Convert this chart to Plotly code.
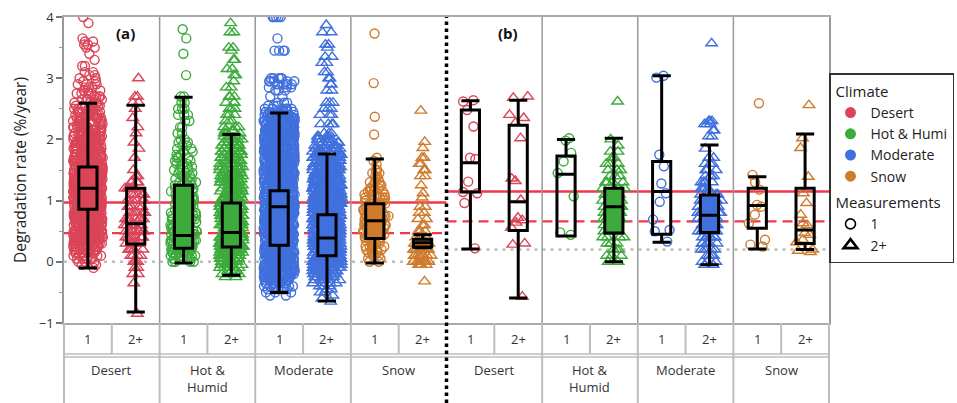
import plotly.graph_objects as go
import numpy as np

# ---------------- data ----------------
climates = ["Desert", "Hot & Humid", "Moderate", "Snow"]
climate_labels = ["Desert", "Hot &<br>Humid", "Moderate", "Snow"]
legend_names = ["Desert", "Hot & Humi", "Moderate", "Snow"]
measurements = ["1", "2+"]
panel_tags = ["(a)", "(b)"]
y_ticks = [-1, 0, 1, 2, 3, 4]

# box statistics, order: Desert 1, Desert 2+, H&H 1, H&H 2+, Mod 1, Mod 2+, Snow 1, Snow 2+
a_q1 = [0.86, 0.29, 0.22, 0.24, 0.27, 0.10, 0.38, 0.24]
a_median = [1.20, 0.62, 0.43, 0.48, 0.90, 0.39, 0.67, 0.31]
a_q3 = [1.55, 1.20, 1.25, 0.96, 1.16, 0.77, 0.95, 0.37]
a_lower = [-0.10, -0.82, -0.02, -0.22, -0.50, -0.64, -0.02, 0.23]
a_upper = [2.59, 2.56, 2.69, 2.08, 2.43, 1.76, 1.68, 0.44]

b_q1 = [1.14, 0.51, 0.42, 0.47, 0.45, 0.48, 0.55, 0.30]
b_median = [1.62, 0.98, 1.43, 0.90, 1.15, 0.76, 0.92, 0.52]
b_q3 = [2.48, 2.23, 1.73, 1.20, 1.64, 1.09, 1.20, 1.20]
b_lower = [0.21, -0.59, 0.42, 0.00, 0.32, -0.05, 0.21, 0.20]
b_upper = [2.63, 2.64, 2.00, 2.02, 3.04, 1.91, 1.39, 2.09]

# reference lines per panel
ref_solid = [0.97, 1.15]
ref_dashed = [0.47, 0.66]
ref_dotted = [0.0, 0.20]

# ---- individual degradation rates (value levels and how many points sit there) ----
a_desert_1_levels = [-0.10, -0.05, 0.00, 0.05, 0.10, 0.15, 0.20, 0.25, 0.30, 0.35, 0.40, 0.45, 0.50,
                     0.55, 0.60, 0.65, 0.70, 0.75, 0.80, 0.85, 0.90, 0.95, 1.00, 1.05, 1.10, 1.15,
                     1.20, 1.25, 1.30, 1.35, 1.40, 1.45, 1.50, 1.55, 1.60, 1.65, 1.70, 1.75, 1.80,
                     1.85, 1.90, 1.95, 2.00, 2.05, 2.10, 2.15, 2.20, 2.25, 2.30, 2.35, 2.40, 2.45,
                     2.50, 2.55, 2.60, 2.65, 2.70, 2.75, 2.80, 2.85, 2.90, 2.95, 3.00, 3.05, 3.10,
                     3.20, 3.30, 3.40, 3.50, 3.55, 3.60, 3.65, 3.90, 4.00]
a_desert_1_counts = [1, 2, 3, 5, 6, 8, 9, 11, 12, 13, 14, 15, 16,
                     17, 18, 18, 19, 19, 20, 20, 20, 20, 20, 20, 20, 20,
                     20, 20, 20, 20, 20, 19, 19, 18, 18, 17, 17, 16, 16,
                     15, 15, 14, 13, 12, 12, 11, 10, 9, 9, 8, 7, 7,
                     6, 6, 5, 5, 4, 4, 3, 3, 3, 2, 2, 2, 2,
                     2, 1, 1, 2, 2, 2, 1, 1, 1]

a_desert_2_levels = [-0.85, -0.35, -0.2, -0.1, 0.0, 0.1, 0.2, 0.3, 0.4, 0.5, 0.6, 0.7, 0.8, 0.9, 1.0,
                     1.1, 1.2, 1.3, 1.4, 1.5, 1.7, 1.85, 1.95, 2.1, 2.2, 2.35, 2.5, 2.6, 2.7, 3.0]
a_desert_2_counts = [1, 1, 2, 2, 3, 4, 5, 7, 8, 8, 8, 7, 6, 6, 6,
                     5, 6, 4, 2, 1, 1, 1, 1, 1, 1, 1, 1, 2, 2, 1]

a_hot_1_levels = [0.00, 0.05, 0.10, 0.15, 0.20, 0.25, 0.30, 0.35, 0.40, 0.45, 0.50, 0.55, 0.60,
                  0.65, 0.70, 0.75, 0.80, 0.85, 0.90, 0.95, 1.00, 1.05, 1.10, 1.15, 1.20, 1.25,
                  1.30, 1.35, 1.40, 1.45, 1.50, 1.55, 1.60, 1.65, 1.70, 1.75, 1.80, 1.85, 1.90,
                  1.95, 2.00, 2.10, 2.20, 2.30, 2.40, 2.50, 2.60, 2.70, 3.05, 3.40, 3.65, 3.80]
a_hot_1_counts = [4, 6, 7, 8, 8, 8, 8, 8, 7, 7, 7, 6, 6,
                  6, 6, 5, 5, 5, 5, 5, 5, 4, 4, 4, 4, 4,
                  4, 3, 3, 3, 3, 3, 3, 3, 3, 2, 2, 2, 2,
                  2, 2, 2, 2, 2, 3, 3, 2, 2, 1, 1, 1, 1]

a_hot_2_levels = [-0.25, -0.20, -0.15, -0.10, -0.05, 0.00, 0.05, 0.10, 0.15, 0.20, 0.25, 0.30, 0.35,
                  0.40, 0.45, 0.50, 0.55, 0.60, 0.65, 0.70, 0.75, 0.80, 0.85, 0.90, 0.95, 1.00,
                  1.05, 1.10, 1.15, 1.20, 1.25, 1.30, 1.35, 1.40, 1.45, 1.50, 1.55, 1.60, 1.65,
                  1.70, 1.75, 1.80, 1.85, 1.90, 1.95, 2.00, 2.05, 2.10, 2.15, 2.20, 2.30, 2.40,
                  2.50, 2.60, 2.70, 2.85, 2.95, 3.05, 3.15, 3.30, 3.45, 3.50, 3.75, 3.90]
a_hot_2_counts = [2, 3, 4, 5, 6, 7, 8, 9, 10, 10, 11, 11, 11,
                  11, 11, 11, 11, 11, 11, 11, 11, 11, 11, 10, 10, 10,
                  9, 9, 9, 8, 8, 8, 7, 7, 7, 6, 6, 6, 5,
                  5, 5, 5, 4, 4, 4, 4, 3, 3, 3, 3, 3, 3,
                  3, 3, 3, 2, 1, 2, 2, 2, 1, 2, 2, 1]

a_mod_1_levels = [-0.55, -0.50, -0.45, -0.40, -0.35, -0.30, -0.25, -0.20, -0.15, -0.10, -0.05,
                  0.00, 0.05, 0.10, 0.15, 0.20, 0.25, 0.30, 0.35, 0.40, 0.45, 0.50, 0.55, 0.60,
                  0.65, 0.70, 0.75, 0.80, 0.85, 0.90, 0.95, 1.00, 1.05, 1.10, 1.15, 1.20, 1.25,
                  1.30, 1.35, 1.40, 1.45, 1.50, 1.55, 1.60, 1.65, 1.70, 1.75, 1.80, 1.85, 1.90,
                  1.95, 2.00, 2.05, 2.10, 2.15, 2.20, 2.25, 2.30, 2.35, 2.40, 2.45, 2.50, 2.55,
                  2.60, 2.70, 2.80, 2.85, 2.90, 2.95, 3.00, 3.45, 3.65, 4.00]
a_mod_1_counts = [2, 3, 5, 7, 9, 11, 13, 15, 17, 18, 19,
                  20, 20, 20, 20, 20, 20, 20, 20, 20, 20, 20, 20, 20,
                  20, 20, 20, 20, 20, 20, 20, 20, 20, 20, 20, 20, 20,
                  20, 20, 20, 20, 20, 20, 20, 20, 20, 20, 20, 20, 20,
                  20, 20, 20, 20, 19, 18, 17, 16, 15, 13, 10, 7, 3,
                  3, 2, 3, 3, 4, 5, 5, 4, 1, 5]

a_mod_2_levels = [-0.65, -0.60, -0.55, -0.50, -0.45, -0.40, -0.35, -0.30, -0.25, -0.20, -0.15,
                  -0.10, -0.05, 0.00, 0.05, 0.10, 0.15, 0.20, 0.25, 0.30, 0.35, 0.40, 0.45, 0.50,
                  0.55, 0.60, 0.65, 0.70, 0.75, 0.80, 0.85, 0.90, 0.95, 1.00, 1.05, 1.10, 1.15,
                  1.20, 1.25, 1.30, 1.35, 1.40, 1.45, 1.50, 1.55, 1.60, 1.65, 1.70, 1.75, 1.80,
                  1.85, 1.90, 1.95, 2.00, 2.05, 2.10, 2.25, 2.40, 2.50, 2.60, 2.80, 2.90, 3.00,
                  3.10, 3.25, 3.35, 3.50, 3.55, 3.75, 3.87]
a_mod_2_counts = [1, 1, 1, 2, 2, 3, 4, 5, 7, 9, 11,
                  13, 15, 16, 17, 18, 19, 20, 20, 20, 20, 20, 20, 20,
                  20, 20, 20, 20, 20, 20, 20, 20, 20, 20, 20, 20, 20,
                  20, 19, 18, 17, 16, 15, 14, 13, 12, 11, 10, 9, 8,
                  7, 6, 5, 5, 4, 3, 4, 3, 3, 3, 2, 2, 2,
                  2, 2, 2, 1, 2, 2, 1]

a_snow_1_levels = [0.00, 0.05, 0.10, 0.15, 0.20, 0.25, 0.30, 0.35, 0.40, 0.45, 0.50, 0.55, 0.60,
                   0.65, 0.70, 0.75, 0.80, 0.85, 0.90, 0.95, 1.00, 1.05, 1.10, 1.15, 1.20, 1.25,
                   1.30, 1.35, 1.40, 1.45, 1.50, 1.60, 1.65, 1.70, 2.08, 2.37, 2.92, 3.73]
a_snow_1_counts = [2, 2, 3, 3, 4, 4, 5, 5, 5, 6, 6, 6, 6,
                   6, 6, 6, 6, 6, 5, 5, 5, 5, 4, 4, 4, 3,
                   3, 2, 2, 2, 2, 1, 1, 1, 1, 1, 1, 1]

a_snow_2_levels = [-0.32, -0.05, 0.0, 0.1, 0.2, 0.3, 0.4, 0.5, 0.6, 0.7, 0.8, 0.9, 1.05, 1.12, 1.25,
                   1.4, 1.5, 1.6, 1.7, 1.86, 1.96, 2.47]
a_snow_2_counts = [1, 4, 9, 10, 10, 8, 5, 3, 2, 2, 2, 2, 1, 1, 1,
                   2, 2, 2, 2, 1, 1, 1]

b_desert_1_values = [0.22, 0.96, 1.12, 1.14, 1.31, 1.68, 1.70, 2.21, 2.48, 2.62, 2.64]
b_desert_2_values = [-0.57, 0.28, 0.30, 0.56, 0.64, 0.68, 0.72, 1.01, 1.32, 1.36, 2.02, 2.27,
                     2.35, 2.40, 2.68, 2.70]
b_hot_1_values = [0.44, 0.48, 1.07, 1.45, 1.64, 1.78, 1.98, 2.02]
b_hot_2_levels = [0.0, 0.1, 0.2, 0.3, 0.4, 0.5, 0.6, 0.7, 0.8, 0.9, 1.0, 1.1, 1.2, 1.3, 1.4, 1.5,
                  1.6, 1.7, 1.8, 1.9, 2.0, 2.62]
b_hot_2_counts = [2, 3, 3, 4, 4, 5, 5, 5, 5, 5, 5, 5, 4, 4, 3, 3,
                  3, 2, 2, 1, 1, 1]
b_mod_1_values = [0.33, 0.50, 0.52, 0.69, 0.98, 1.12, 1.28, 1.56, 1.75, 3.01, 3.04]
b_mod_2_levels = [-0.05, 0.0, 0.1, 0.2, 0.3, 0.4, 0.5, 0.6, 0.7, 0.8, 0.9, 1.0, 1.1, 1.2, 1.3,
                  1.4, 1.5, 1.6, 1.7, 1.85, 2.05, 2.15, 2.25, 2.3, 3.57]
b_mod_2_counts = [2, 3, 4, 5, 6, 7, 8, 8, 8, 8, 7, 7, 6, 5, 4,
                  4, 3, 3, 2, 1, 2, 2, 3, 3, 1]
b_snow_1_values = [0.25, 0.28, 0.36, 0.63, 0.77, 0.90, 0.93, 1.18, 1.30, 1.42, 2.59]
b_snow_2_values = [0.16, 0.18, 0.20, 0.32, 0.36, 0.44, 0.47, 0.60, 0.63, 0.77, 0.96, 1.12,
                   1.39, 1.86, 2.02, 2.56]

a_points = [np.repeat(a_desert_1_levels, a_desert_1_counts), np.repeat(a_desert_2_levels, a_desert_2_counts),
            np.repeat(a_hot_1_levels, a_hot_1_counts), np.repeat(a_hot_2_levels, a_hot_2_counts),
            np.repeat(a_mod_1_levels, a_mod_1_counts), np.repeat(a_mod_2_levels, a_mod_2_counts),
            np.repeat(a_snow_1_levels, a_snow_1_counts), np.repeat(a_snow_2_levels, a_snow_2_counts)]
b_points = [np.array(b_desert_1_values), np.array(b_desert_2_values),
            np.array(b_hot_1_values), np.repeat(b_hot_2_levels, b_hot_2_counts),
            np.array(b_mod_1_values), np.repeat(b_mod_2_levels, b_mod_2_counts),
            np.array(b_snow_1_values), np.array(b_snow_2_values)]

panels = [
    dict(points=a_points, q1=a_q1, med=a_median, q3=a_q3, lo=a_lower, hi=a_upper),
    dict(points=b_points, q1=b_q1, med=b_median, q3=b_q3, lo=b_lower, hi=b_upper),
]

# ---------------- style ----------------
colors = ["#DA4558", "#3CAB3C", "#4070DD", "#CF7B2E"]
symbols = ["circle-open", "triangle-up-open"]
sizes = [9, 10]
spread = [[0.62, 0.48, 0.55, 0.5, 0.65, 0.6, 0.58, 0.5],
          [0.45, 0.45, 0.45, 0.48, 0.45, 0.5, 0.45, 0.45]]
filled = [[True, False, True, True, True, True, True, True],
          [False, False, False, True, False, True, False, False]]
FONT = "Open Sans"
RED = "#F0384C"
n_slots = 16

fig = go.Figure()

for p, pan in enumerate(panels):
    for c in range(4):
        for m in range(2):
            i = 2 * c + m
            pos = 8 * p + 2 * c + 0.5 + m
            col = colors[c]
            fig.add_trace(go.Box(
                y=pan["points"][i], x0=pos, width=spread[p][i],
                boxpoints="all", jitter=1, pointpos=0,
                marker=dict(symbol=symbols[m], size=sizes[m], color=col,
                            line=dict(width=1.4, color=col)),
                line=dict(width=0, color="rgba(0,0,0,0)"),
                fillcolor="rgba(0,0,0,0)",
                hoverinfo="skip", showlegend=False))

for p, pan in enumerate(panels):
    for c in range(4):
        for m in range(2):
            i = 2 * c + m
            pos = 8 * p + 2 * c + 0.5 + m
            fig.add_trace(go.Box(
                x=[pos], q1=[pan["q1"][i]], median=[pan["med"][i]], q3=[pan["q3"][i]],
                lowerfence=[pan["lo"][i]], upperfence=[pan["hi"][i]],
                width=0.38, whiskerwidth=1, boxpoints=False,
                line=dict(color="black", width=3),
                fillcolor=colors[c] if filled[p][i] else "rgba(0,0,0,0)",
                hoverinfo="skip", showlegend=False))

# legend entries
for c in range(4):
    fig.add_trace(go.Scatter(
        x=[None], y=[None], mode="markers", name=legend_names[c],
        marker=dict(symbol="circle", size=11, color=colors[c]),
        legendgroup="climate", legendgrouptitle=dict(text="Climate")))
for m in range(2):
    fig.add_trace(go.Scatter(
        x=[None], y=[None], mode="markers", name=measurements[m],
        marker=dict(symbol=symbols[m], size=10 if m == 0 else 12, color="black",
                    line=dict(width=1.6 if m == 0 else 2.6, color="black")),
        legendgroup="meas", legendgrouptitle=dict(text="Measurements")))

shapes = []
# reference lines
for p in range(2):
    x0, x1 = 8 * p, 8 * p + 8
    shapes.append(dict(type="line", xref="x", yref="y", x0=x0, x1=x1, y0=ref_dotted[p], y1=ref_dotted[p],
                       line=dict(color="#BDBDBD", width=2.5, dash="3px,5px"), layer="below"))
    shapes.append(dict(type="line", xref="x", yref="y", x0=x0, x1=x1, y0=ref_dashed[p], y1=ref_dashed[p],
                       line=dict(color=RED, width=2.2, dash="10px,6px"), layer="below"))
    shapes.append(dict(type="line", xref="x", yref="y", x0=x0, x1=x1, y0=ref_solid[p], y1=ref_solid[p],
                       line=dict(color=RED, width=2.5), layer="below"))

Y_BOT = -80 / 306.0
ROW1_BOT = -31 / 306.0
ROW2_TOP = -34 / 306.0
TABLE = "#BDBDBD"
# climate separators through plot and table
for k in [2, 4, 6, 10, 12, 14]:
    shapes.append(dict(type="line", xref="paper", yref="paper", x0=k / n_slots, x1=k / n_slots,
                       y0=0, y1=1, line=dict(color="#9A9A9A", width=1.5)))
    shapes.append(dict(type="line", xref="paper", yref="paper", x0=k / n_slots, x1=k / n_slots,
                       y0=Y_BOT, y1=0, line=dict(color=TABLE, width=2)))
# measurement separators in row 1
for k in range(1, 16, 2):
    shapes.append(dict(type="line", xref="paper", yref="paper", x0=k / n_slots, x1=k / n_slots,
                       y0=ROW1_BOT, y1=0, line=dict(color=TABLE, width=2)))
# outer table lines
for xx in [0, 1]:
    shapes.append(dict(type="line", xref="paper", yref="paper", x0=xx, x1=xx,
                       y0=Y_BOT, y1=0, line=dict(color=TABLE, width=2)))
for yy in [ROW1_BOT, ROW2_TOP]:
    shapes.append(dict(type="line", xref="paper", yref="paper", x0=0, x1=1,
                       y0=yy, y1=yy, line=dict(color=TABLE, width=1.5)))
# panel divider
shapes.append(dict(type="line", xref="paper", yref="paper", x0=0.5, x1=0.5, y0=Y_BOT, y1=1.0,
                   line=dict(color="black", width=3.5, dash="dot")))

annotations = []
for p in range(2):
    annotations.append(dict(text="<b>" + panel_tags[p] + "</b>", xref="paper", yref="paper",
                            x=(8 * p + 1.28) / n_slots, y=(323 - 33) / 306.0, showarrow=False,
                            xanchor="center", yanchor="middle",
                            font=dict(size=15, color="#111", family=FONT)))
    for c in range(4):
        annotations.append(dict(text=climate_labels[c], xref="paper", yref="paper",
                                x=(8 * p + 2 * c + 1) / n_slots, y=-36 / 306.0,
                                xanchor="center", yanchor="top",
                                showarrow=False, font=dict(size=13, color="#333", family=FONT)))
        for m in range(2):
            annotations.append(dict(text=measurements[m], xref="paper", yref="paper",
                                    x=(8 * p + 2 * c + 0.5 + m) / n_slots, y=-16 / 306.0,
                                    xanchor="center", yanchor="middle",
                                    showarrow=False, font=dict(size=13, color="#333", family=FONT)))
annotations.append(dict(text="Degradation rate (%/year)", xref="paper", yref="paper",
                        x=-44 / 765.0, y=0.5, textangle=-90, showarrow=False,
                        xanchor="center", yanchor="middle",
                        font=dict(size=15.5, color="#222", family=FONT)))

fig.update_layout(
    width=957, height=403,
    margin=dict(l=64, r=128, t=17, b=80, autoexpand=False),
    plot_bgcolor="white", paper_bgcolor="white",
    boxmode="overlay",
    font=dict(family=FONT, size=13, color="#333"),
    shapes=shapes, annotations=annotations,
    legend=dict(x=1.0, xanchor="left", y=(323 - 73) / 306.0, yanchor="top",
                bgcolor="white", bordercolor="#333", borderwidth=1.5,
                font=dict(size=14, color="#222", family=FONT),
                grouptitlefont=dict(size=15, color="#222", family=FONT),
                traceorder="grouped", tracegroupgap=4, itemwidth=30),
    xaxis=dict(range=[0, n_slots], showgrid=False, zeroline=False, showticklabels=False,
               ticks="", showline=True, mirror=True, linecolor="#AAAAAA", linewidth=1.5),
    yaxis=dict(range=[-1, 4], tickvals=y_ticks, ticks="outside", ticklen=6, tickwidth=1.5,
               tickcolor="#777", showgrid=False, zeroline=False, showline=True, mirror=True,
               linecolor="#999999", linewidth=1.5, tickfont=dict(size=13, color="#333"),
               minor=dict(ticks="outside", ticklen=3, dtick=0.5, tickcolor="#999", tickwidth=1)),
)

fig.write_html("out.html", config={"displayModeBar": False},
               post_script="document.body.style.margin='0';document.body.style.overflow='hidden';")
